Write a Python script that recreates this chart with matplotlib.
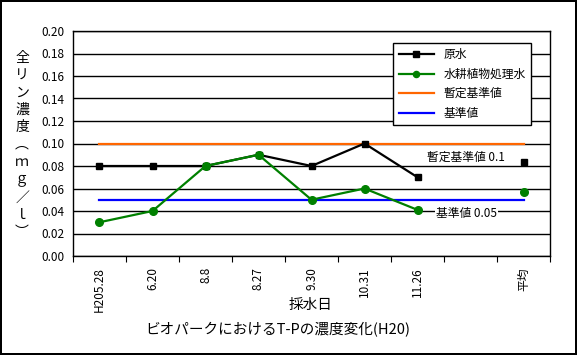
import matplotlib
matplotlib.use("Agg")
import matplotlib.pyplot as plt
import numpy as np

plt.rcParams['font.family'] = ['Noto Sans CJK JP', 'DejaVu Sans']

categories = ["H205.28", "6.20", "8.8", "8.27", "9.30", "10.31", "11.26", "", "平均"]
raw_water = [0.08, 0.08, 0.08, 0.09, 0.08, 0.10, 0.07, np.nan, 0.084]
treated = [0.03, 0.04, 0.08, 0.09, 0.05, 0.06, 0.041, np.nan, 0.057]
provisional = [0.1] * 9
standard = [0.05] * 9
yticks = [0.00, 0.02, 0.04, 0.06, 0.08, 0.10, 0.12, 0.14, 0.16, 0.18, 0.20]

fig = plt.figure(figsize=(5.77, 3.55), dpi=100)
fig.patch.set_edgecolor('black')
fig.patch.set_linewidth(1.5)
W, H = 577, 355
ax = fig.add_axes([73 / W, 1 - 256 / H, (550 - 73) / W, (256 - 31) / H])

x = np.arange(len(categories))
ax.plot(x, provisional, color='#FF6600', lw=1.6, label='暫定基準値', zorder=2)
ax.plot(x, standard, color='#0000FF', lw=1.6, label='基準値', zorder=2)
ax.plot(x, raw_water, color='black', marker='s', ms=5, lw=1.6, label='原水', zorder=3)
ax.plot(x, treated, color='#008000', marker='o', ms=5.5, lw=1.6, label='水耕植物処理水', zorder=3)

ax.set_xlim(-0.5, len(categories) - 0.5)
ax.set_ylim(0, 0.2)
ax.set_yticks(yticks)
ax.set_yticklabels([f"{v:.2f}" for v in yticks], fontsize=8.5)
ax.yaxis.grid(True, color='black', lw=1)
ax.set_axisbelow(True)
ax.tick_params(axis='y', length=0, pad=6)

ax.set_xticks(np.arange(len(categories) + 1) - 0.5, minor=False)
ax.set_xticklabels([])
ax.set_xticks(x, minor=True)
ax.set_xticklabels(categories, minor=True, rotation=90, fontsize=8.5, va='top')
ax.tick_params(axis='x', which='major', length=4, direction='out')
ax.tick_params(axis='x', which='minor', length=0, pad=8)
for s in ax.spines.values():
    s.set_color('black')
    s.set_linewidth(1)

handles, labels = ax.get_legend_handles_labels()
order = [2, 3, 0, 1]
leg = ax.legend([handles[i] for i in order], [labels[i] for i in order],
                loc='upper right', bbox_to_anchor=(537 / W, 1 - 37 / H),
                bbox_transform=fig.transFigure, fontsize=8.5, frameon=True,
                fancybox=False, edgecolor='black', framealpha=1,
                borderpad=0.45, labelspacing=0.55, handlelength=3.0,
                markerscale=0.8)
leg.get_frame().set_linewidth(1)

ax.text(6.18, 0.088, "暫定基準値 0.1", fontsize=8.5, va='center', ha='left',
        bbox=dict(facecolor='white', edgecolor='none', pad=1), zorder=4)
ax.text(6.35, 0.038, "基準値 0.05", fontsize=8.5, va='center', ha='left',
        bbox=dict(facecolor='white', edgecolor='none', pad=1), zorder=4)

ylabel = "全\nリ\nン\n濃\n度\n︵\nｍ\nｇ\n／\nｌ\n︶"
fig.text(22 / W, 1 - 145 / H, ylabel, fontsize=10, ha='center', va='center', linespacing=1.3)

fig.text(311 / W, 1 - 305 / H, "採水日", fontsize=10.5, ha='center', va='center')
fig.text(278 / W, 1 - 330 / H, "ビオパークにおけるT-Pの濃度変化(H20)", fontsize=10.5, ha='center', va='center')

fig.savefig("out.png", dpi=100, edgecolor=fig.get_edgecolor())
